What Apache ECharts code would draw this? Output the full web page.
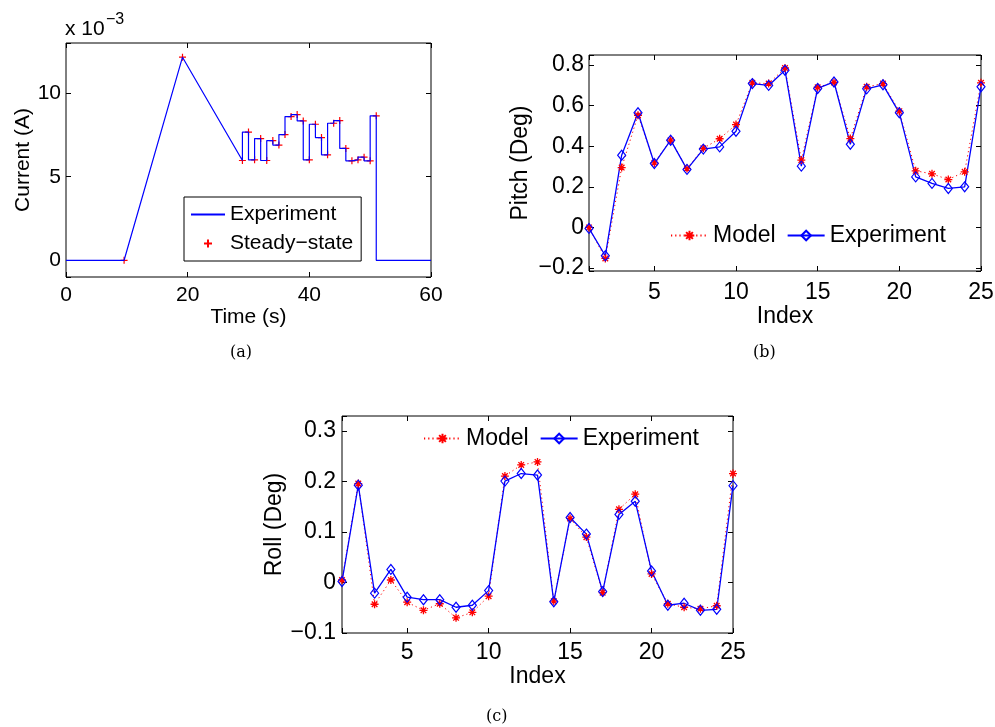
<!DOCTYPE html>
<html>
<head>
<meta charset="utf-8">
<script src="https://cdn.jsdelivr.net/npm/echarts@6/dist/echarts.min.js"></script>
<style>
  html, body { margin: 0; padding: 0; background: #fff; }
  #main { width: 995px; height: 727px; }
</style>
</head>
<body>
<div id="main"></div>
<script>
// (a) steady-state points, current in units of 1e-3 A
var ssTime = [9.55, 19.15, 29, 30, 31, 32, 33, 34, 35, 36, 37, 38, 39, 40,
              41, 42, 43, 44, 45, 46, 47, 48, 49, 50, 51];
var ssCurrent = [0, 12.15, 5.97, 7.67, 6.01, 7.28, 5.97, 7.16, 6.89, 7.52, 8.60, 8.72, 8.34, 6.01,
                 8.14, 7.34, 6.31, 8.20, 8.36, 6.69, 5.95, 6.01, 6.17, 5.95, 8.64];
var expStart = 0, expEnd = 60;

// (b) and (c), index 1..25
var index = [1, 2, 3, 4, 5, 6, 7, 8, 9, 10, 11, 12, 13, 14, 15, 16, 17, 18, 19, 20, 21, 22, 23, 24, 25];
var pitchModel = [0.0, -0.153, 0.295, 0.553, 0.318, 0.43, 0.29, 0.39, 0.437, 0.507, 0.713, 0.709, 0.786,
                  0.332, 0.691, 0.715, 0.438, 0.693, 0.709, 0.573, 0.279, 0.264, 0.236, 0.274, 0.713];
var pitchExp = [-0.005, -0.14, 0.356, 0.565, 0.315, 0.43, 0.286, 0.386, 0.397, 0.474, 0.709, 0.70, 0.775,
                0.302, 0.685, 0.717, 0.41, 0.683, 0.703, 0.565, 0.249, 0.217, 0.192, 0.2, 0.693];
var rollModel = [0.005, 0.196, -0.043, 0.005, -0.039, -0.055, -0.042, -0.07, -0.059, -0.027, 0.211, 0.233, 0.239,
                 -0.037, 0.127, 0.090, -0.02, 0.145, 0.175, 0.017, -0.042, -0.049, -0.052, -0.046, 0.216];
var rollExp = [0.002, 0.193, -0.021, 0.026, -0.029, -0.034, -0.034, -0.049, -0.045, -0.016, 0.201, 0.216, 0.213,
               -0.038, 0.129, 0.096, -0.018, 0.135, 0.161, 0.023, -0.045, -0.041, -0.055, -0.053, 0.192];

var FONT = 'Liberation Sans';
var BLUE = '#0000ff', RED = '#ff0000';
var PLUS = 'path://M-5,0L5,0M0,-5L0,5';
var STAR = 'path://M0,-10L0,10M-10,0L10,0M-7,-7L7,7M-7,7L7,-7';
var names = { 'a-exp': 'Experiment', 'a-ss': 'Steady\u2212state',
              'b-model': 'Model', 'b-exp': 'Experiment', 'c-model': 'Model', 'c-exp': 'Experiment' };

// experiment trace: ramps, then 1 s steps ending at each steady-state point
var expLine = [[expStart, 0], [ssTime[0], ssCurrent[0]], [ssTime[1], ssCurrent[1]], [ssTime[2], ssCurrent[2]]];
for (var i = 3; i < ssTime.length; i++) {
  expLine.push([ssTime[i - 1], ssCurrent[i]]);
  expLine.push([ssTime[i], ssCurrent[i]]);
}
expLine.push([ssTime[ssTime.length - 1], 0]);
expLine.push([expEnd, 0]);

function pairs(xs, ys) { return xs.map(function (x, k) { return [x, ys[k]]; }); }

function tickFmt(step) {
  return function (v) {
    var k = v / step;
    if (Math.abs(k - Math.round(k)) > 1e-6) return '';
    return String(+v.toFixed(3)).replace('-', '\u2212');
  };
}

function axis(dim, grid, o, fs) {
  var main = {
    gridIndex: grid, type: 'value', min: o.min, max: o.max,
    axisLine: { show: false, onZero: false },
    axisTick: { inside: true, length: 5, lineStyle: { color: '#000', width: 1 } },
    splitLine: { show: false },
    axisLabel: { color: '#000', fontSize: fs, fontFamily: FONT, margin: o.margin, formatter: tickFmt(o.step),
                 showMinLabel: true, showMaxLabel: true },
    name: o.name, nameLocation: 'middle', nameGap: o.nameGap,
    nameTextStyle: { color: '#000', fontSize: fs, fontFamily: FONT }
  };
  if (o.interval) main.interval = o.interval;
  if (o.splitNumber) main.splitNumber = o.splitNumber;
  var mirror = JSON.parse(JSON.stringify(main));
  mirror.axisLabel = { show: false };
  mirror.name = '';
  mirror.position = dim === 'x' ? 'top' : 'right';
  main.position = dim === 'x' ? 'bottom' : 'left';
  return [main, mirror];
}

var xa = [].concat(
  axis('x', 0, { min: 0, max: 60, interval: 20, step: 20, margin: 8, name: 'Time (s)', nameGap: 27 }, 21),
  axis('x', 1, { min: 1, max: 25, splitNumber: 5, step: 5, margin: 10, name: 'Index', nameGap: 32 }, 23),
  axis('x', 2, { min: 1, max: 25, splitNumber: 5, step: 5, margin: 8, name: 'Index', nameGap: 31 }, 23)
);
var ya = [].concat(
  axis('y', 0, { min: -1, max: 13, splitNumber: 3, step: 5, margin: 5, name: 'Current (A)', nameGap: 32 }, 21),
  axis('y', 1, { min: -0.215, max: 0.85, splitNumber: 5, step: 0.2, margin: 5, name: 'Pitch (Deg)', nameGap: 57 }, 23),
  axis('y', 2, { min: -0.1, max: 0.33, interval: 0.1, step: 0.1, margin: 6, name: 'Roll (Deg)', nameGap: 56 }, 23)
);

function modelSeries(name, grid, ys) {
  return {
    name: name, type: 'line', xAxisIndex: grid * 2, yAxisIndex: grid * 2, data: pairs(index, ys),
    symbol: STAR, symbolSize: 8,
    lineStyle: { color: RED, width: 1, type: [1.2, 3] },
    itemStyle: { color: 'none', borderColor: RED, borderWidth: 1.3 }
  };
}
function expSeries(name, grid, ys) {
  return {
    name: name, type: 'line', xAxisIndex: grid * 2, yAxisIndex: grid * 2, data: pairs(index, ys),
    symbol: 'diamond', symbolSize: [8, 10],
    lineStyle: { color: BLUE, width: 1.3 },
    itemStyle: { color: 'rgba(0,0,0,0)', borderColor: BLUE, borderWidth: 1.2 }
  };
}

var legendText = function (n) { return names[n]; };

var option = {
  animation: false,
  backgroundColor: '#fff',
  textStyle: { fontFamily: FONT },
  grid: [
    { left: 66, top: 43, width: 365, height: 234 },
    { left: 589, top: 55, width: 392, height: 216 },
    { left: 342, top: 416, width: 391, height: 217 }
  ].map(function (g) {
    g.show = true; g.borderColor = '#000'; g.borderWidth = 1; g.backgroundColor = '#fff';
    g.containLabel = false; g.outerBoundsMode = 'none';
    return g;
  }),
  xAxis: xa,
  yAxis: ya,
  legend: [
    {
      left: 184, top: 197, orient: 'vertical', padding: [7, 8, 7, 6], itemGap: 8,
      itemWidth: 34, itemHeight: 8, borderColor: '#000', borderWidth: 1, backgroundColor: '#fff',
      formatter: legendText, selectedMode: false,
      textStyle: { color: '#000', fontSize: 21, fontFamily: FONT },
      data: [
        { name: 'a-exp', itemStyle: { color: 'rgba(0,0,0,0)', borderWidth: 0, opacity: 0 } },
        'a-ss'
      ]
    },
    {
      left: 670, top: 224, itemGap: 11, itemWidth: 37, itemHeight: 12, padding: 0,
      formatter: legendText, selectedMode: false,
      textStyle: { color: '#000', fontSize: 23, fontFamily: FONT },
      data: ['b-model', 'b-exp']
    },
    {
      left: 423, top: 427, itemGap: 11, itemWidth: 37, itemHeight: 12, padding: 0,
      formatter: legendText, selectedMode: false,
      textStyle: { color: '#000', fontSize: 23, fontFamily: FONT },
      data: ['c-model', 'c-exp']
    }
  ],
  graphic: [
    { type: 'text', left: 65, top: 19, style: { text: 'x 10', fontSize: 21, fontFamily: FONT, fill: '#000' } },
    { type: 'text', left: 106, top: 12, style: { text: '\u22123', fontSize: 16, fontFamily: FONT, fill: '#000' } },
    { type: 'text', left: 230, top: 345, style: { text: '(a)', fontSize: 16, fontFamily: 'DejaVu Serif', fill: '#000' } },
    { type: 'text', left: 753, top: 345, style: { text: '(b)', fontSize: 16, fontFamily: 'DejaVu Serif', fill: '#000' } },
    { type: 'text', left: 486, top: 709, style: { text: '(c)', fontSize: 16, fontFamily: 'DejaVu Serif', fill: '#000' } }
  ],
  series: [
    {
      name: 'a-exp', type: 'line', xAxisIndex: 0, yAxisIndex: 0, data: expLine,
      showSymbol: false, symbol: 'none', lineStyle: { color: BLUE, width: 1.2 }
    },
    {
      name: 'a-ss', type: 'scatter', xAxisIndex: 0, yAxisIndex: 0, data: pairs(ssTime, ssCurrent),
      symbol: PLUS, symbolSize: 7,
      itemStyle: { color: 'none', borderColor: RED, borderWidth: 1.2, opacity: 1 }
    },
    modelSeries('b-model', 1, pitchModel),
    expSeries('b-exp', 1, pitchExp),
    modelSeries('c-model', 2, rollModel),
    expSeries('c-exp', 2, rollExp)
  ]
};

var chart = echarts.init(document.getElementById('main'), null, { renderer: 'canvas' });
chart.setOption(option);
</script>
</body>
</html>
